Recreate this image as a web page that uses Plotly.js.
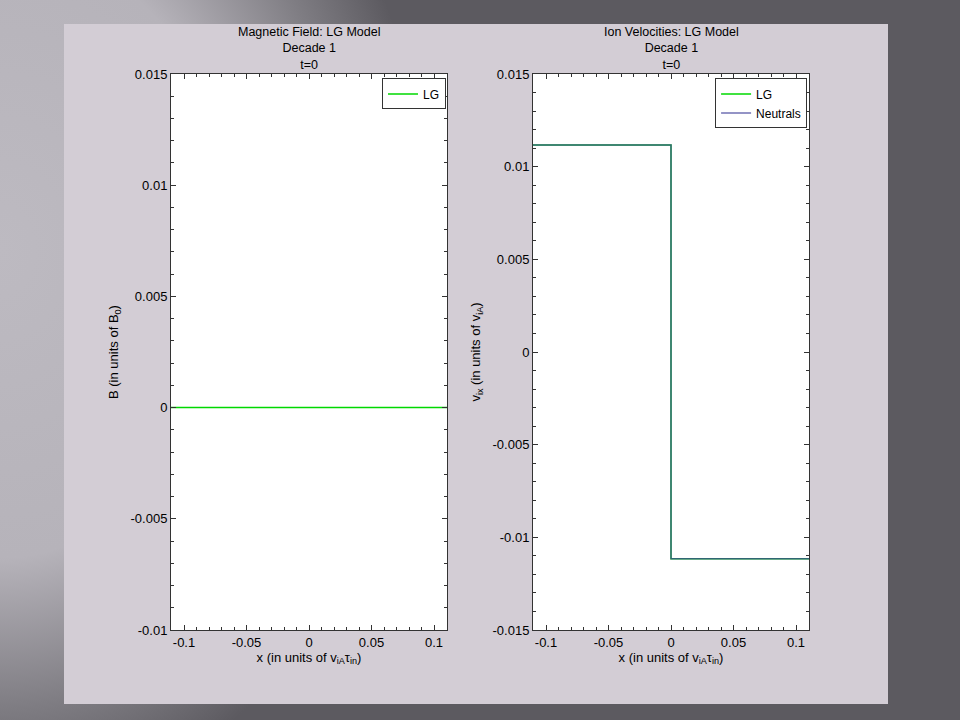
<!DOCTYPE html>
<html>
<head>
<meta charset="utf-8">
<script src="https://cdn.plot.ly/plotly-3.0.1.min.js"></script>
<style>
html,body{margin:0;padding:0;width:960px;height:720px;overflow:hidden;}
body{background:#5b5a5f;}
#bg{position:absolute;left:0;top:0;width:960px;height:720px;
background:radial-gradient(ellipse 430px 560px at 0px 250px, #bdbac1 0%, #b6b3ba 55%, #7e7c82 82%, #5c5a60 100%);}
#panel{position:absolute;left:64px;top:24px;width:824px;height:680px;background:#d3cdd5;}
#chart{position:absolute;left:0;top:0;width:960px;height:720px;}
</style>
</head>
<body>
<div id="bg"></div>
<div id="panel"></div>
<div id="chart"></div>
<script>
// Magnetic field (left panel)
const bX = [-0.1104, 0.1104];
const bLG = [0, 0];
// Ion velocities (right panel)
const vX = [-0.1104, 0, 0, 0.1104];
const vLG = [0.01117, 0.01117, -0.01115, -0.01115];
const vNeutrals = [0.01117, 0.01117, -0.01115, -0.01115];

const titles = ["Magnetic Field: LG Model<br>Decade 1<br>t=0", "Ion Velocities: LG Model<br>Decade 1<br>t=0"];
const xTickVals = [-0.1, -0.05, 0, 0.05, 0.1];
const xTickText = ["-0.1", "-0.05", "0", "0.05", "0.1"];
const y1TickVals = [-0.01, -0.005, 0, 0.005, 0.01, 0.015];
const y1TickText = ["-0.01", "-0.005", "0", "0.005", "0.01", "0.015"];
const y2TickVals = [-0.015, -0.01, -0.005, 0, 0.005, 0.01, 0.015];
const y2TickText = ["-0.015", "-0.01", "-0.005", "0", "0.005", "0.01", "0.015"];

const font = {family: "Liberation Sans, Arial, sans-serif", size: 13, color: "#000"};
const tfont = {family: "Liberation Sans, Arial, sans-serif", size: 12.5, color: "#000"};
const lfont = {family: "Liberation Sans, Arial, sans-serif", size: 12, color: "#000"};

const traces = [
  {x: bX, y: bLG, type: "scatter", mode: "lines", name: "LG", line: {color: "#00d800", width: 1.5}, xaxis: "x", yaxis: "y", legend: "legend"},
  {x: vX, y: vLG, type: "scatter", mode: "lines", name: "LG", line: {color: "#00d800", width: 1.5}, xaxis: "x2", yaxis: "y2", legend: "legend2"},
  {x: vX, y: vNeutrals, type: "scatter", mode: "lines", name: "Neutrals", line: {color: "#40409a", width: 1.5}, opacity: 0.75, xaxis: "x2", yaxis: "y2", legend: "legend2"}
];

function xax(domain, anchor) {
  return {domain: domain, anchor: anchor, range: [-0.1104, 0.1104], tickvals: xTickVals, ticktext: xTickText,
    ticks: "inside", ticklen: 5, tickcolor: "#333", mirror: "allticks", showline: true, linecolor: "#333", linewidth: 1,
    showgrid: false, zeroline: false, tickfont: font,
    minor: {dtick: 0.01, tick0: 0, ticks: "inside", ticklen: 3, tickcolor: "#333", showgrid: false},
    title: {text: "x (in units of v<sub>iA</sub>τ<sub>in</sub>)", font: font, standoff: 2}};
}
function yax(range, vals, text, title, anchor) {
  return {anchor: anchor, range: range, tickvals: vals, ticktext: text,
    ticks: "inside", ticklen: 5, tickcolor: "#333", mirror: "allticks", showline: true, linecolor: "#333", linewidth: 1,
    showgrid: false, zeroline: false, tickfont: font,
    minor: {dtick: 0.001, tick0: 0, ticks: "inside", ticklen: 3, tickcolor: "#333", showgrid: false},
    title: {text: title, font: font, standoff: 8}};
}

const layout = {
  width: 960, height: 720,
  margin: {l: 171, r: 151, t: 74, b: 90},
  paper_bgcolor: "rgba(0,0,0,0)", plot_bgcolor: "#ffffff",
  font: font,
  showlegend: true,
  xaxis: xax([0, 0.4326], "y"),
  yaxis: yax([-0.01, 0.015], y1TickVals, y1TickText, "B (in units of B<sub>0</sub>)", "x"),
  xaxis2: xax([0.5674, 1], "y2"),
  yaxis2: yax([-0.015, 0.015], y2TickVals, y2TickText, "v<sub>ix</sub> (in units of v<sub>iA</sub>)", "x2"),
  legend: {x: 0.4310, xanchor: "right", y: 0.992, yanchor: "top", bgcolor: "#fff", bordercolor: "#333", borderwidth: 1,
    font: lfont, tracegroupgap: 0, itemwidth: 30},
  legend2: {x: 0.997, xanchor: "right", y: 0.992, yanchor: "top", bgcolor: "#fff", bordercolor: "#333", borderwidth: 1,
    font: lfont, tracegroupgap: 0, itemwidth: 30},
  annotations: [
    {text: titles[0], xref: "paper", yref: "paper", x: 0.2163, y: 1, xanchor: "center", yanchor: "bottom", yshift: 0, showarrow: false, font: tfont},
    {text: titles[1], xref: "paper", yref: "paper", x: 0.7837, y: 1, xanchor: "center", yanchor: "bottom", yshift: 0, showarrow: false, font: tfont}
  ]
};

Plotly.newPlot("chart", traces, layout, {displayModeBar: false, staticPlot: true});
</script>
</body>
</html>
